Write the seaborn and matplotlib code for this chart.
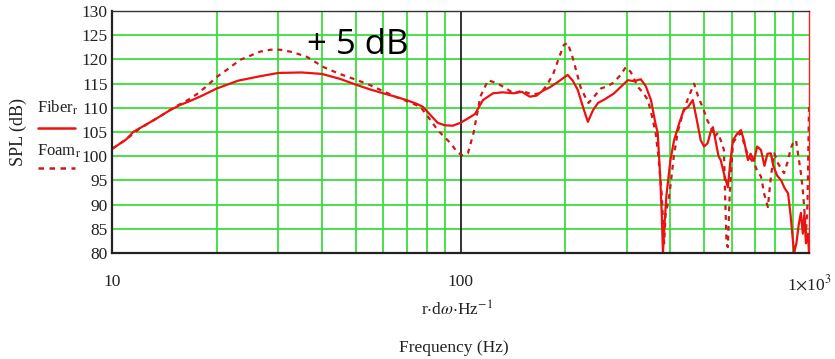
import numpy as np
import pandas as pd
import matplotlib
matplotlib.use("Agg")
import matplotlib.pyplot as plt
from matplotlib.lines import Line2D
from matplotlib.ticker import FixedLocator, FixedFormatter, NullFormatter
import seaborn as sns

# ---------------- data ----------------
fiber_freq = [10, 11, 11.5, 12.5, 13.5, 14.5, 15.7, 17, 18, 20, 23, 26.5, 30, 35, 40, 45, 50, 55, 60, 65,
              70, 75, 78, 82, 86, 90, 95, 100, 105, 110, 116, 124, 132, 142, 150, 158, 165, 172, 180, 190,
              203, 210, 217, 225, 232, 240, 248, 260, 276, 290, 302, 315, 329, 340, 352, 362, 368, 374, 378, 381,
              385, 390, 400, 410, 425, 437, 450, 464, 475, 489, 500, 512, 522, 530, 540, 550, 558, 572, 585, 595,
              605, 620, 638, 652, 668, 680, 695, 710, 728, 745, 760, 777, 790, 810, 832, 850, 871, 885, 898, 906,
              920, 935, 948, 960, 970, 980, 993, 1000]
fiber_spl = [101.5, 103.5, 105.0, 106.5, 107.9, 109.3, 110.6, 111.6, 112.4, 114.0, 115.6, 116.5, 117.2, 117.3, 117.0, 116.0, 114.8, 113.8, 113.0, 112.3,
             111.6, 110.8, 110.2, 108.5, 106.9, 106.4, 106.3, 106.9, 107.8, 108.7, 111.6, 113.0, 113.2, 113.0, 113.3, 112.3, 112.5, 113.5, 114.2, 115.3,
             116.8, 115.6, 113.7, 110.0, 107.1, 109.5, 111.0, 111.8, 113.0, 114.5, 115.7, 115.5, 115.9, 114.5, 111.6, 107.0, 104.8, 96.0, 88.0, 80.0,
             86.0, 92.0, 99.0, 103.3, 107.0, 109.5, 110.2, 111.6, 108.0, 103.3, 102.0, 102.7, 105.0, 106.0, 103.0, 100.0, 99.2, 96.0, 93.6, 99.0,
             103.3, 104.5, 105.4, 103.0, 99.2, 100.5, 99.0, 102.0, 101.3, 98.0, 100.5, 100.6, 98.0, 96.0, 95.0, 93.5, 92.3, 88.0, 83.0, 80.0,
             82.0, 86.0, 88.3, 84.0, 88.0, 82.0, 84.0, 80.0]

foam_freq = [10, 11, 12, 13, 14, 15, 16.5, 17.5, 18.5, 20, 21.5, 23.3, 25, 26.6, 28.5, 30.4, 33, 36.3, 40.5, 45,
             50.6, 55, 58.9, 65, 70, 76.7, 80, 86, 93.6, 98, 101, 105, 109, 114, 120, 128, 135, 142, 150, 160,
             170, 178, 185, 192, 198, 203, 210, 216, 221, 227, 233, 243, 253, 265, 276, 288, 298, 308, 323, 335,
             345, 355, 363, 370, 378, 384, 388, 396, 402, 409, 420, 437, 450, 468, 480, 499, 510, 523, 535, 548,
             560, 570, 575, 580, 585, 592, 605, 620, 638, 655, 670, 695, 710, 728, 745, 762, 778, 795, 815, 848,
             870, 885, 900, 918, 932, 948, 960, 972, 980, 990, 1000]
foam_spl = [101.5, 103.5, 105.7, 107.2, 108.6, 110.0, 111.6, 112.8, 114.2, 116.4, 118.0, 119.9, 120.8, 121.6, 122.0, 122.0, 121.5, 120.5, 118.4, 117.0,
            115.7, 114.7, 113.7, 112.3, 111.4, 110.2, 108.5, 105.4, 102.7, 100.8, 100.2, 100.6, 104.8, 112.3, 115.7, 115.0, 114.0, 113.0, 113.5, 112.8,
            113.0, 115.0, 117.2, 120.5, 123.0, 123.4, 120.3, 117.0, 114.3, 112.5, 111.0, 112.5, 114.0, 114.5, 115.3, 116.8, 118.4, 117.4, 114.3, 113.0,
            111.6, 108.0, 104.8, 99.8, 92.0, 82.0, 88.3, 91.0, 95.0, 99.8, 105.0, 109.5, 112.0, 115.0, 112.5, 109.5, 107.5, 106.0, 104.0, 104.8,
            103.0, 101.3, 91.0, 82.0, 81.2, 92.0, 102.7, 104.0, 104.8, 102.0, 100.0, 98.6, 97.0, 95.8, 92.0, 89.5, 96.0, 100.6, 98.5, 96.5,
            99.0, 101.5, 102.7, 103.3, 100.0, 96.5, 93.0, 88.0, 84.0, 90.0, 110.2]

y_ticks = [80, 85, 90, 95, 100, 105, 110, 115, 120, 125, 130]
x_major = [10, 100, 1000]
x_major_labels = ["10", "100", r"1$\times$10$^3$"]
x_minor = [20, 30, 40, 50, 60, 70, 80, 90, 200, 300, 400, 500, 600, 700, 800, 900]
series_names = ["Fiber", "Foam"]

# ---------------- style ----------------
sns.set_style("white")
plt.rcParams["font.family"] = ["Liberation Serif", "DejaVu Serif"]
plt.rcParams["mathtext.fontset"] = "stix"

fig = plt.figure(figsize=(8.35, 3.59), dpi=100)
W, H = 835, 359
ax_l, ax_r, ax_t, ax_b = 112, 809, 11, 253
ax = fig.add_axes([ax_l / W, 1 - ax_b / H, (ax_r - ax_l) / W, (ax_b - ax_t) / H])

df_fiber = pd.DataFrame({"f": fiber_freq, "spl": fiber_spl})
df_foam = pd.DataFrame({"f": foam_freq, "spl": foam_spl})

fiber_color = "#ee1111"
foam_color = "#cc1a1a"
dash = (0, (2.2, 2.2))
sns.lineplot(data=df_fiber, x="f", y="spl", ax=ax, color=fiber_color, linewidth=1.6,
             estimator=None, sort=False, zorder=4)
sns.lineplot(data=df_foam, x="f", y="spl", ax=ax, color=foam_color, linewidth=1.6,
             estimator=None, sort=False, zorder=3, linestyle=dash)

ax.set_xscale("log")
ax.set_xlim(10, 1000)
ax.set_ylim(80, 130)

ax.xaxis.set_major_locator(FixedLocator(x_major))
ax.xaxis.set_major_formatter(FixedFormatter(x_major_labels))
ax.xaxis.set_minor_locator(FixedLocator(x_minor))
ax.xaxis.set_minor_formatter(NullFormatter())
ax.set_yticks(y_ticks)
ax.set_yticklabels([str(v) for v in y_ticks])

grid_green = "#3ade3a"
ax.grid(False)
ax.xaxis.grid(True, which="minor", color=grid_green, linewidth=1.3)
ax.yaxis.grid(True, which="major", color=grid_green, linewidth=1.3)
ax.axvline(100, color="#111111", linewidth=1.2, zorder=2)
ax.set_axisbelow(True)

ax.tick_params(axis="x", which="both", length=0, pad=15, labelsize=12.5, colors="#222222")
ax.tick_params(axis="y", which="both", length=0, pad=3, labelsize=12.5, colors="#222222")

for side in ["left", "bottom"]:
    ax.spines[side].set_color("#222222")
    ax.spines[side].set_linewidth(1.6)
ax.spines["top"].set_color("#333333")
ax.spines["top"].set_linewidth(1.0)
ax.spines["right"].set_color("#ee2222")
ax.spines["right"].set_linewidth(1.0)
for s in ax.spines.values():
    s.set_zorder(5)

ax.set_ylabel("SPL (dB)", fontsize=13, color="#222222")
ax.yaxis.set_label_coords(-(ax_l - 18) / (ax_r - ax_l), 0.5)
ax.yaxis.label.set_va("center")

ax.set_xlabel("Frequency (Hz)", fontsize=12.5, color="#222222")
ax.xaxis.set_label_coords(0.49, -(340 - ax_b) / (ax_b - ax_t))

fig.text(457 / W, 1 - 310 / H, r"r$\cdot$d$\omega$$\cdot$Hz$^{-1}$", fontsize=12.5,
         ha="center", va="center", color="#222222")

# "+ 5 dB" annotation
ax.text(36.3, 123.0, "+ 5 dB", fontsize=25, family=["Open Sans", "DejaVu Sans"],
        ha="left", va="center", color="black", zorder=6)

# legend (label above line sample, outside the axes on the left)
fig.text(37 / W, 1 - 108 / H, series_names[0] + r"$_{\mathrm{r}}$", fontsize=12,
         ha="left", va="center", color="#222222")
fig.text(37 / W, 1 - 151 / H, series_names[1] + r"$_{\mathrm{r}}$", fontsize=12,
         ha="left", va="center", color="#222222")
fig.add_artist(Line2D([38 / W, 75 / W], [1 - 128 / H, 1 - 128 / H], color=fiber_color,
                      linewidth=1.8, transform=fig.transFigure))
fig.add_artist(Line2D([38 / W, 75 / W], [1 - 168 / H, 1 - 168 / H], color=foam_color,
                      linewidth=1.8, linestyle=dash, transform=fig.transFigure))

fig.savefig("out.png", dpi=100)
